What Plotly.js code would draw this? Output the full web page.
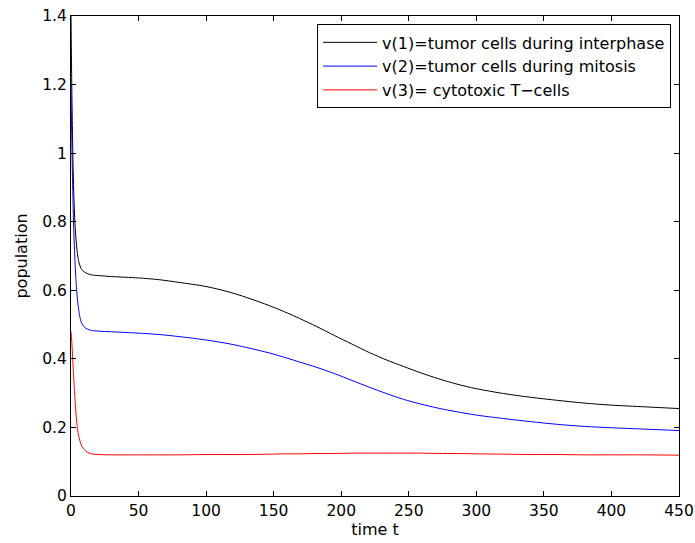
<!DOCTYPE html>
<html>
<head>
<meta charset="utf-8">
<script src="https://cdn.plot.ly/plotly-3.0.1.min.js"></script>
<style>html,body{margin:0;padding:0;background:#fff;}#chart{width:695px;height:543px;}</style>
</head>
<body>
<div id="chart"></div>
<script>
// time points
var timeT = [0, 0.5, 1, 1.5, 2, 3, 4, 5, 6, 7, 8, 10, 12, 15, 20, 30, 50, 65, 80, 100, 117, 130, 147, 160, 169, 182, 195, 208, 221, 234, 246, 259, 272, 285, 300, 320, 340, 360, 380, 400, 425, 450];
// v(1) tumor cells during interphase
var v1 = [1.4, 1.22, 1.08, 0.97, 0.89, 0.79, 0.735, 0.70, 0.68, 0.668, 0.66, 0.653, 0.649, 0.645, 0.643, 0.640, 0.636, 0.631, 0.623, 0.611, 0.595, 0.579, 0.555, 0.534, 0.518, 0.494, 0.468, 0.443, 0.418, 0.396, 0.378, 0.359, 0.342, 0.327, 0.313, 0.299, 0.288, 0.279, 0.271, 0.265, 0.260, 0.255];
// v(2) tumor cells during mitosis
var v2 = [1.2, 1.06, 0.95, 0.86, 0.78, 0.68, 0.61, 0.565, 0.535, 0.515, 0.503, 0.492, 0.487, 0.483, 0.481, 0.479, 0.475, 0.471, 0.465, 0.455, 0.444, 0.433, 0.417, 0.402, 0.391, 0.375, 0.357, 0.337, 0.317, 0.298, 0.282, 0.268, 0.256, 0.246, 0.236, 0.226, 0.217, 0.209, 0.203, 0.199, 0.195, 0.191];
// v(3) cytotoxic T-cells
var v3 = [0.48, 0.455, 0.42, 0.38, 0.345, 0.28, 0.225, 0.19, 0.17, 0.155, 0.145, 0.135, 0.128, 0.123, 0.121, 0.120, 0.120, 0.120, 0.120, 0.121, 0.121, 0.121, 0.122, 0.123, 0.123, 0.124, 0.124, 0.125, 0.125, 0.125, 0.125, 0.125, 0.124, 0.124, 0.123, 0.122, 0.121, 0.121, 0.120, 0.120, 0.120, 0.119];

var seriesNames = ['v(1)=tumor cells during interphase', 'v(2)=tumor cells during mitosis', 'v(3)= cytotoxic T\u2212cells'];
var xTicks = [0, 50, 100, 150, 200, 250, 300, 350, 400, 450];
var yTicks = [0, 0.2, 0.4, 0.6, 0.8, 1, 1.2, 1.4];

var FONT = 'DejaVu Sans, Liberation Sans, Arial, sans-serif';
var colors = ['#000000', '#0000ff', '#ff0000'];
var ys = [v1, v2, v3];
var traces = ys.map(function (y, i) {
  return {
    x: timeT, y: y, name: seriesNames[i], type: 'scatter', mode: 'lines',
    line: {color: colors[i], width: 1, shape: 'spline', smoothing: 0.8}
  };
});

var axisCommon = {
  showgrid: false, zeroline: false, showline: true, linecolor: '#000', linewidth: 1,
  mirror: 'ticks', ticks: 'inside', ticklen: 5, tickcolor: '#000', tickwidth: 1,
  tickfont: {family: FONT, size: 15.5, color: '#000'}
};

var layout = {
  width: 695, height: 543,
  margin: {l: 71, r: 16, t: 16, b: 47},
  paper_bgcolor: '#fff', plot_bgcolor: '#fff',
  showlegend: true,
  xaxis: Object.assign({}, axisCommon, {
    range: [0, 450], tickvals: xTicks, ticktext: xTicks.map(String),
    title: {text: 'time t', font: {family: FONT, size: 16, color: '#000'}, standoff: 4}
  }),
  yaxis: Object.assign({}, axisCommon, {
    range: [0, 1.4], tickvals: yTicks, ticktext: yTicks.map(String),
    title: {text: 'population', font: {family: FONT, size: 16, color: '#000'}, standoff: 10}
  }),
  legend: {
    x: 0.987, y: 0.895, xanchor: 'right', yanchor: 'middle',
    bgcolor: '#fff', bordercolor: '#000', borderwidth: 1,
    font: {family: FONT, size: 16, color: '#000'},
    itemwidth: 54, tracegroupgap: 0
  }
};

Plotly.newPlot('chart', traces, layout, {staticPlot: true, displayModeBar: false});
</script>
</body>
</html>
